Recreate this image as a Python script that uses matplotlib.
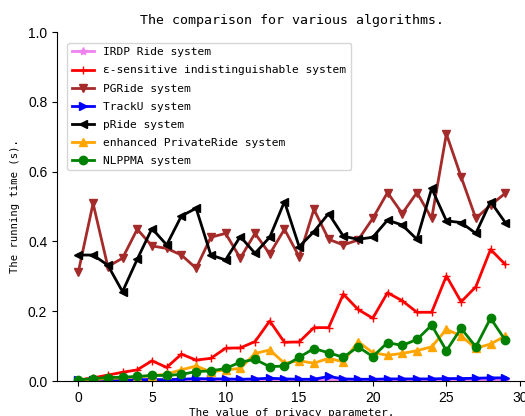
import matplotlib
matplotlib.use("Agg")
import matplotlib.pyplot as plt

# privacy parameter values on the x axis
eps = list(range(30))

# running time (s) per algorithm
irdp = [0.001, 0.001, 0.002, 0.002, 0.002, 0.002, 0.002, 0.002, 0.002, 0.002,
        0.002, 0.002, 0.003, 0.002, 0.002, 0.002, 0.002, 0.002, 0.003, 0.002,
        0.002, 0.002, 0.002, 0.002, 0.002, 0.002, 0.002, 0.002, 0.003, 0.003]
eps_sensitive = [0.003, 0.009, 0.017, 0.025, 0.032, 0.058, 0.039, 0.077, 0.060, 0.065,
                 0.094, 0.095, 0.113, 0.172, 0.111, 0.112, 0.153, 0.153, 0.249, 0.205,
                 0.180, 0.253, 0.230, 0.197, 0.197, 0.301, 0.227, 0.270, 0.377, 0.334]
pgride = [0.313, 0.509, 0.328, 0.352, 0.435, 0.387, 0.380, 0.361, 0.323, 0.412,
          0.423, 0.352, 0.423, 0.364, 0.435, 0.356, 0.492, 0.406, 0.390, 0.404,
          0.466, 0.540, 0.480, 0.540, 0.466, 0.708, 0.585, 0.466, 0.504, 0.538]
tracku = [0.003, 0.003, 0.003, 0.003, 0.004, 0.004, 0.004, 0.005, 0.007, 0.006,
          0.006, 0.005, 0.006, 0.008, 0.006, 0.005, 0.005, 0.013, 0.006, 0.005,
          0.005, 0.006, 0.006, 0.006, 0.006, 0.007, 0.007, 0.008, 0.009, 0.009]
pride = [0.361, 0.361, 0.332, 0.256, 0.349, 0.437, 0.390, 0.473, 0.495, 0.361,
         0.347, 0.414, 0.366, 0.412, 0.514, 0.385, 0.428, 0.480, 0.415, 0.406,
         0.412, 0.461, 0.447, 0.406, 0.552, 0.459, 0.454, 0.423, 0.514, 0.454]
private_ride = [0.002, 0.004, 0.007, 0.009, 0.012, 0.015, 0.020, 0.032, 0.043, 0.026,
                0.032, 0.036, 0.079, 0.089, 0.051, 0.058, 0.051, 0.065, 0.055, 0.113,
                0.081, 0.074, 0.079, 0.087, 0.098, 0.148, 0.129, 0.094, 0.106, 0.129]
nlppma = [0.003, 0.007, 0.010, 0.011, 0.013, 0.016, 0.016, 0.019, 0.027, 0.029,
          0.036, 0.054, 0.062, 0.041, 0.043, 0.068, 0.093, 0.081, 0.068, 0.098,
          0.070, 0.110, 0.102, 0.119, 0.160, 0.087, 0.151, 0.098, 0.180, 0.117]

series = [
    ("IRDP Ride system", irdp, "violet", "*"),
    ("\u03b5-sensitive indistinguishable system", eps_sensitive, "red", "+"),
    ("PGRide system", pgride, "brown", "v"),
    ("TrackU system", tracku, "blue", ">"),
    ("pRide system", pride, "black", "<"),
    ("enhanced PrivateRide system", private_ride, "orange", "^"),
    ("NLPPMA system", nlppma, "green", "o"),
]

mono = "DejaVu Sans Mono"

fig = plt.figure(figsize=(5.25, 4.16), dpi=100)
ax = fig.add_axes([0.1086, 0.0841, 0.8945, 0.8389])

for label, vals, color, marker in series:
    ax.plot(eps, vals, color=color, marker=marker, linewidth=2, markersize=6,
            label=label)

ax.set_xlim(-1.45, 30.45)
ax.set_ylim(0, 1.0)
ax.set_xticks([0, 5, 10, 15, 20, 25, 30])
ax.set_yticks([0.0, 0.2, 0.4, 0.6, 0.8, 1.0])
ax.spines["top"].set_visible(False)
ax.spines["right"].set_visible(False)
for lab in ax.get_xticklabels() + ax.get_yticklabels():
    lab.set_family(["Liberation Sans Narrow", "Liberation Sans"])
    lab.set_fontsize(10)

ax.set_title("The comparison for various algorithms.", family=mono, fontsize=9.5)
ax.set_xlabel("The value of privacy parameter.", family=mono, fontsize=7.9, labelpad=2)
ax.set_ylabel("The running time (s).", family=mono, fontsize=7.6, labelpad=6)

ax.legend(loc="upper left", prop={"family": mono, "size": 8.1},
          bbox_to_anchor=(0.01, 0.985), labelspacing=0.72)

fig.savefig("out.png", dpi=100)
